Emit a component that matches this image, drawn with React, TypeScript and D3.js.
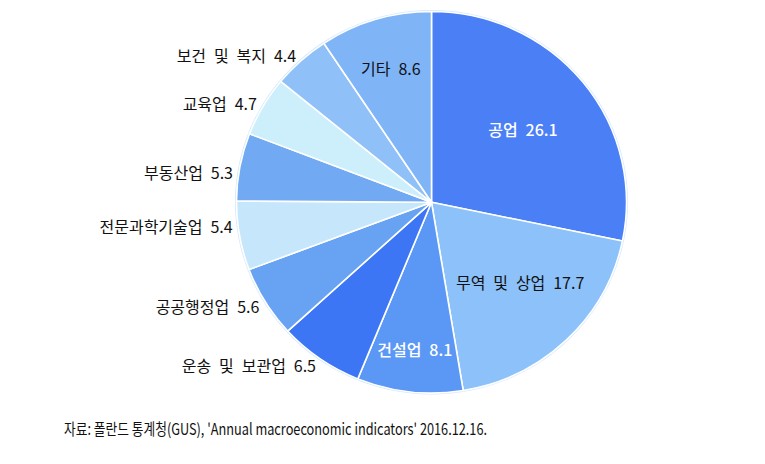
import React from "react";
import * as d3 from "d3";

const categories = ["공업", "무역 및 상업", "건설업", "운송 및 보관업", "공공행정업", "전문과학기술업", "부동산업", "교육업", "보건 및 복지", "기타"];
const values = [26.1, 17.7, 8.1, 6.5, 5.6, 5.4, 5.3, 4.7, 4.4, 8.6];
const colors = ["#4a7ff6", "#8cc1fa", "#5b97f5", "#3d76f4", "#68a2f2", "#c6e6fb", "#71aaf3", "#cdeffc", "#8fc0f8", "#7fb4f7"];
// label style: inside labels get a radius, outside labels are anchored at the rim
const labelInside = [true, true, true, false, false, false, false, false, false, true];
const labelRadius = [118, 128, 149, 202, 202, 202, 202, 202, 202, 141];
const labelDy = [0, -11, 2, 1, 0, -11, 6, 0, -1, -2];
const labelColors = ["#ffffff", "#111111", "#ffffff", "#111111", "#111111", "#111111", "#111111", "#111111", "#111111", "#111111"];
const sourceText = "자료: 폴란드 통계청(GUS), 'Annual macroeconomic indicators' 2016.12.16.";

const W = 765, H = 464;
const cx = 431.5, cy = 202.3, R = 195, sy = 0.978;
const FONT = "'Noto Sans CJK KR', 'Noto Sans', sans-serif";

export default function App() {
  const pie = d3.pie<number>().sort(null).value((d) => d);
  const arcs = pie(values);
  const arc = d3.arc<d3.PieArcDatum<number>>().innerRadius(0).outerRadius(R);

  return (
    <svg width={W} height={H} style={{ position: "absolute", left: 0, top: 0, background: "#fff" }}>
      <g transform={`translate(${cx},${cy}) scale(1,${sy})`}>
        <ellipse cx={0} cy={0} rx={R + 1.5} ry={R + 1.5} fill="#d4e8fb" />
        {arcs.map((a, i) => (
          <path key={i} d={arc(a) || ""} fill={colors[i]} stroke="#ffffff" strokeWidth={1.6} strokeLinejoin="round" />
        ))}
      </g>
      {arcs.map((a, i) => {
        const mid = (a.startAngle + a.endAngle) / 2;
        const r = labelRadius[i];
        const x = cx + r * Math.sin(mid);
        const y = cy - r * Math.cos(mid) * sy + labelDy[i];
        return (
          <text
            key={i}
            x={x}
            y={y}
            textAnchor={labelInside[i] ? "middle" : "end"}
            dominantBaseline="central"
            fontFamily={FONT}
            fontSize={16}
            wordSpacing={4.3}
            fill={labelColors[i]}
            fontWeight={labelColors[i] === "#ffffff" ? 500 : 400}
          >
            {categories[i]} {values[i]}
          </text>
        );
      })}
      <text
        x={64}
        y={428}
        dominantBaseline="central"
        fontFamily={FONT}
        fontSize={16}
        fill="#111"
        textLength={423}
        lengthAdjust="spacingAndGlyphs"
      >
        {sourceText}
      </text>
    </svg>
  );
}
